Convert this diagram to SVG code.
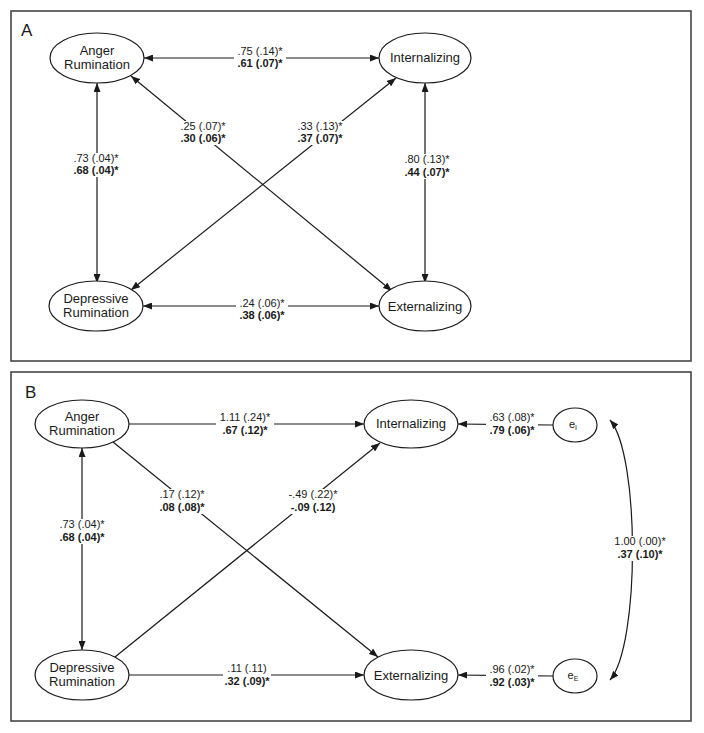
<svg xmlns="http://www.w3.org/2000/svg" width="704" height="733" viewBox="0 0 704 733">
<defs>
<marker id="ah" viewBox="0 0 9 7" markerWidth="9" markerHeight="7" refX="9" refY="3.5" orient="auto-start-reverse" markerUnits="userSpaceOnUse">
<path d="M0,0 L9,3.5 L0,7 z" fill="#1a1a1a"/>
</marker>
<style>
.panel{fill:#fff;stroke:#3a3a3a;stroke-width:1.5}
.node{fill:#fff;stroke:#1a1a1a;stroke-width:1.2}
.nt{font-family:"Liberation Sans",Arial,sans-serif;font-size:13px;fill:#1a1a1a;text-anchor:middle}
.pl{font-family:"Liberation Sans",Arial,sans-serif;font-size:17px;fill:#1a1a1a}
.c{stroke:#1a1a1a;stroke-width:1.2;fill:none}
.lt{font-family:"Liberation Sans",Arial,sans-serif;font-size:11px;fill:#1a1a1a;text-anchor:middle}
.b{font-weight:bold}
.bg{fill:#fff}
</style>
</defs>
<rect x="0" y="0" width="704" height="733" fill="#fff"/>
<rect class="panel" x="11" y="11" width="680" height="350"/>
<rect class="panel" x="11" y="372" width="680" height="349"/>
<text class="pl" x="21" y="36">A</text>
<text class="pl" x="25" y="398">B</text>

<g id="connectors">
<!-- Panel A -->
<line class="c" x1="144" y1="58" x2="379" y2="58" marker-start="url(#ah)" marker-end="url(#ah)"/>
<line class="c" x1="97" y1="83" x2="97" y2="283" marker-start="url(#ah)" marker-end="url(#ah)"/>
<line class="c" x1="425" y1="83" x2="425" y2="283" marker-start="url(#ah)" marker-end="url(#ah)"/>
<line class="c" x1="143" y1="306" x2="379" y2="306" marker-start="url(#ah)" marker-end="url(#ah)"/>
<line class="c" x1="131" y1="76" x2="392" y2="291" marker-start="url(#ah)" marker-end="url(#ah)"/>
<line class="c" x1="131" y1="290" x2="396" y2="78" marker-start="url(#ah)" marker-end="url(#ah)"/>
<!-- Panel B -->
<line class="c" x1="129" y1="424" x2="364" y2="424" marker-end="url(#ah)"/>
<line class="c" x1="82" y1="448" x2="82" y2="650" marker-start="url(#ah)" marker-end="url(#ah)"/>
<line class="c" x1="113" y1="442" x2="378" y2="657" marker-end="url(#ah)"/>
<line class="c" x1="115" y1="657" x2="380" y2="443" marker-end="url(#ah)"/>
<line class="c" x1="129" y1="675" x2="364" y2="675" marker-end="url(#ah)"/>
<line class="c" x1="553" y1="425" x2="458" y2="424" marker-end="url(#ah)"/>
<line class="c" x1="553" y1="676" x2="458" y2="675" marker-end="url(#ah)"/>
<path class="c" d="M610,420 C640,455 640,645 610,680" marker-start="url(#ah)" marker-end="url(#ah)"/>
</g>

<g id="labels">
<!-- Panel A -->
<rect class="bg" x="234" y="46" width="52" height="24"/>
<text class="lt" x="260" y="55">.75 (.14)*</text>
<text class="lt b" x="260" y="67">.61 (.07)*</text>
<rect class="bg" x="70" y="153" width="52" height="24"/>
<text class="lt" x="96" y="162">.73 (.04)*</text>
<text class="lt b" x="96" y="174">.68 (.04)*</text>
<rect class="bg" x="401" y="154" width="52" height="25"/>
<text class="lt" x="427" y="163">.80 (.13)*</text>
<text class="lt b" x="427" y="176">.44 (.07)*</text>
<rect class="bg" x="177" y="121" width="52" height="24"/>
<text class="lt" x="203" y="130">.25 (.07)*</text>
<text class="lt b" x="203" y="142">.30 (.06)*</text>
<rect class="bg" x="294" y="121" width="52" height="24"/>
<text class="lt" x="320" y="130">.33 (.13)*</text>
<text class="lt b" x="320" y="142">.37 (.07)*</text>
<rect class="bg" x="236" y="298" width="52" height="24"/>
<text class="lt" x="262" y="307">.24 (.06)*</text>
<text class="lt b" x="262" y="319">.38 (.06)*</text>
<!-- Panel B -->
<rect class="bg" x="216" y="412" width="58" height="25"/>
<text class="lt" x="245" y="421">1.11 (.24)*</text>
<text class="lt b" x="245" y="434">.67 (.12)*</text>
<rect class="bg" x="56" y="519" width="52" height="25"/>
<text class="lt" x="82" y="528">.73 (.04)*</text>
<text class="lt b" x="82" y="541">.68 (.04)*</text>
<rect class="bg" x="156" y="489" width="52" height="25"/>
<text class="lt" x="182" y="498">.17 (.12)*</text>
<text class="lt b" x="182" y="511">.08 (.08)*</text>
<rect class="bg" x="285" y="489" width="56" height="25"/>
<text class="lt" x="313" y="498">-.49 (.22)*</text>
<text class="lt b" x="313" y="511">-.09 (.12)</text>
<rect class="bg" x="223" y="663" width="48" height="25"/>
<text class="lt" x="247" y="672">.11 (.11)</text>
<text class="lt b" x="247" y="685">.32 (.09)*</text>
<rect class="bg" x="486" y="412" width="52" height="25"/>
<text class="lt" x="512" y="421">.63 (.08)*</text>
<text class="lt b" x="512" y="434">.79 (.06)*</text>
<rect class="bg" x="486" y="664" width="52" height="25"/>
<text class="lt" x="512" y="673">.96 (.02)*</text>
<text class="lt b" x="512" y="686">.92 (.03)*</text>
<rect class="bg" x="611" y="536" width="58" height="25"/>
<text class="lt" x="640" y="545">1.00 (.00)*</text>
<text class="lt b" x="640" y="558">.37 (.10)*</text>
</g>

<g id="a-anger">
<ellipse class="node" cx="97" cy="58" rx="47" ry="25"/>
<text class="nt" x="97" y="55">Anger</text>
<text class="nt" x="97" y="69">Rumination</text>
</g>
<g id="a-internalizing">
<ellipse class="node" cx="425" cy="58" rx="46" ry="25"/>
<text class="nt" x="425" y="62">Internalizing</text>
</g>
<g id="a-depressive">
<ellipse class="node" cx="96" cy="306" rx="47" ry="25"/>
<text class="nt" x="96" y="303">Depressive</text>
<text class="nt" x="96" y="317">Rumination</text>
</g>
<g id="a-externalizing">
<ellipse class="node" cx="425" cy="306" rx="46" ry="25"/>
<text class="nt" x="425" y="311">Externalizing</text>
</g>

<g id="b-anger">
<ellipse class="node" cx="82" cy="424" rx="47" ry="24"/>
<text class="nt" x="82" y="421">Anger</text>
<text class="nt" x="82" y="435">Rumination</text>
</g>
<g id="b-internalizing">
<ellipse class="node" cx="411" cy="424" rx="47" ry="24"/>
<text class="nt" x="411" y="428">Internalizing</text>
</g>
<g id="b-eI">
<ellipse class="node" cx="575" cy="425" rx="22" ry="17"/>
<text class="lt" x="573" y="428">e<tspan font-size="7" dy="2">I</tspan></text>
</g>
<g id="b-depressive">
<ellipse class="node" cx="82" cy="675" rx="47" ry="25"/>
<text class="nt" x="82" y="672">Depressive</text>
<text class="nt" x="82" y="686">Rumination</text>
</g>
<g id="b-externalizing">
<ellipse class="node" cx="411" cy="675" rx="47" ry="25"/>
<text class="nt" x="411" y="680">Externalizing</text>
</g>
<g id="b-eE">
<ellipse class="node" cx="575" cy="676" rx="22" ry="17"/>
<text class="lt" x="573" y="679">e<tspan font-size="7" dy="2">E</tspan></text>
</g>
</svg>
